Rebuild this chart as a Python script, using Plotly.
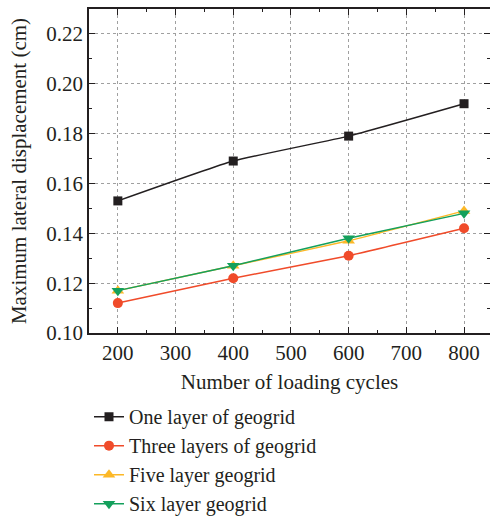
import plotly.graph_objects as go

# Loading cycles and maximum lateral displacement (cm) per reinforcement case
cycles = [200, 400, 600, 800]
one_layer = [0.153, 0.169, 0.179, 0.192]
three_layers = [0.112, 0.122, 0.131, 0.142]
five_layer = [0.117, 0.127, 0.137, 0.149]
six_layer = [0.117, 0.127, 0.138, 0.148]

series_names = ["One layer of geogrid", "Three layers of geogrid",
                "Five layer geogrid", "Six layer geogrid"]
series_values = [one_layer, three_layers, five_layer, six_layer]
series_colors = ["#231f20", "#f04b2a", "#fcb827", "#14a05c"]
series_symbols = ["square", "circle", "triangle-up", "triangle-down"]
series_sizes = [9, 10, 11, 11]

FONT = "Liberation Serif"
INK = "#231f20"

fig = go.Figure()
for name, vals, col, sym, sz in zip(series_names, series_values, series_colors,
                                    series_symbols, series_sizes):
    fig.add_trace(go.Scatter(
        x=cycles, y=vals, name=name, mode="lines+markers",
        line=dict(color=col, width=1.5, shape="spline", smoothing=0.4),
        marker=dict(symbol=sym, size=sz, color=col),
    ))

axis_common = dict(
    showline=True, linecolor=INK, linewidth=1.5, mirror="allticks",
    ticks="inside", ticklen=6, tickwidth=1.2, tickcolor=INK,
    showgrid=True, gridcolor="#a0a0a0", gridwidth=1, griddash="dot",
    zeroline=False,
    tickfont=dict(family=FONT, size=21, color=INK),
)

fig.update_xaxes(
    **axis_common, range=[150, 845], tick0=200, dtick=100,
    minor=dict(ticks="inside", ticklen=3, tickcolor=INK, dtick=50, tick0=150,
               showgrid=False),
    title=dict(text="Number of loading cycles", standoff=10,
               font=dict(family=FONT, size=21, color=INK)),
)
fig.update_yaxes(
    **axis_common, range=[0.10, 0.23], tick0=0.10, dtick=0.02,
    tickformat=".2f",
    minor=dict(ticks="inside", ticklen=3, tickcolor=INK, dtick=0.01,
               showgrid=False),
    title=dict(text="Maximum lateral displacement (cm)", standoff=14,
               font=dict(family=FONT, size=21, color=INK)),
)

fig.update_layout(
    width=490, height=519,
    margin=dict(l=89, r=0, t=9, b=186, autoexpand=False),
    paper_bgcolor="white", plot_bgcolor="white",
    font=dict(family=FONT, color=INK),
    showlegend=True,
    legend=dict(
        x=0.0, xanchor="left", y=-0.198, yanchor="top",
        font=dict(family=FONT, size=20, color=INK),
        bgcolor="rgba(0,0,0,0)", tracegroupgap=0,
    ),
)

fig.write_html("out.html")
